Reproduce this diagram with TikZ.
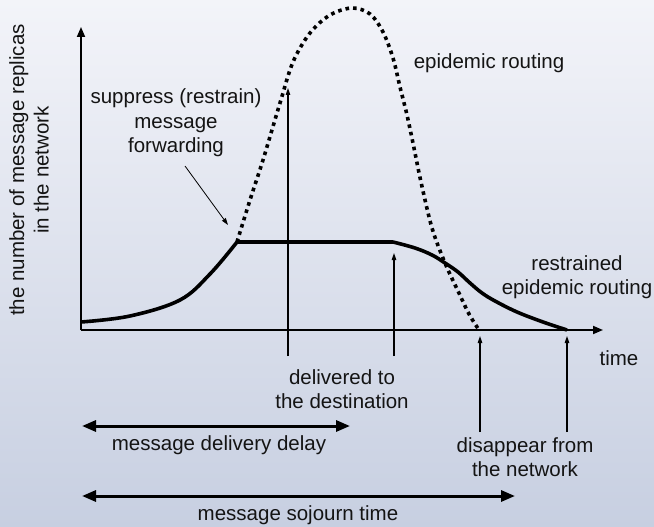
\documentclass[tikz,border=0pt]{standalone}
\usepackage{fontspec}
\setmainfont{Liberation Sans}
\usetikzlibrary{arrows.meta}
\definecolor{bgtop}{RGB}{243,244,249}
\definecolor{bgbot}{RGB}{199,207,225}
\definecolor{ink}{RGB}{20,20,20}
\definecolor{thin}{RGB}{50,50,50}
\begin{document}
\begin{tikzpicture}[x=1pt,y=-1pt,
  lbl/.style={inner sep=0pt,align=center,text=ink,font=\fontsize{20.5}{24.5}\selectfont},
  axis/.style={line width=1.8pt,-{Triangle[length=10pt,width=8pt]}},
  pointer/.style={thin,line width=1.1pt,-{Triangle[length=7pt,width=4.5pt]}},
  span/.style={line width=3pt,{Triangle[length=14pt,width=11pt]}-{Triangle[length=14pt,width=11pt]}},
  restrained/.style={line width=3.6pt,line join=round,line cap=butt},
  epidemic/.style={line width=3.6pt,dash pattern=on 3.6pt off 4pt}]
% background
\shade[top color=bgtop,bottom color=bgbot] (0,0) rectangle (654,527);
\useasboundingbox (0,0) rectangle (654,527);

% axes
\coordinate (O) at (81,330);
\coordinate (xend) at (603,330);
\coordinate (yend) at (81,27);
\draw[axis] (O) -- (xend);
\draw[axis] (O) -- (yend);

% curves
\coordinate (knee) at (237,242);
\coordinate (flatend) at (393,242);
\draw[epidemic] plot[smooth,tension=0.55] coordinates {(237,242) (250,200) (263,160) (280,103) (293,62) (310,33) (330,15) (352,8) (370,14) (383,32) (393,58) (400,87) (407,115) (414,148) (421,182) (432,228) (445,263) (458,291) (469,314) (479,330)};
\draw[restrained] plot[smooth,tension=0.6] coordinates {(81,322) (130,316) (180,300) (210,274) (237,242)} -- (flatend)
  plot[smooth,tension=0.6] coordinates {(393,242) (415,248) (432,255) (445,263) (458,272) (470,283) (482,293) (495,301) (517,312) (543,322) (567,330)};

% labels
\node[lbl] (epi) at (489,63) {epidemic routing};
\node[lbl] (supp) at (176,123) {suppress (restrain)\\message\\forwarding};
\node[lbl] (rest) at (577,277) {restrained\\epidemic routing};
\node[lbl] (time) at (619,358) {time};
\node[lbl] (deliv) at (342,389) {delivered to\\the destination};
\node[lbl] (disap) at (525,457) {disappear from\\the network};
\node[lbl] (delay) at (219,445) {message delivery delay};
\node[lbl] (sojourn) at (298,515) {message sojourn time};
\node[lbl,rotate=90] (ylab) at (29,170) {the number of message replicas\\in the network};

% pointers
\coordinate (p1a) at (288,356); \coordinate (p1b) at (288,88);
\coordinate (p2a) at (394,356); \coordinate (p2b) at (394,253);
\coordinate (p3a) at (480,432); \coordinate (p3b) at (480,336);
\coordinate (p4a) at (567,432); \coordinate (p4b) at (567,336);
\coordinate (c1) at (185,166); \coordinate (c2) at (228,225);
\draw[pointer] (p1a) -- (p1b);
\draw[pointer] (p2a) -- (p2b);
\draw[pointer] (p3a) -- (p3b);
\draw[pointer] (p4a) -- (p4b);
\draw[pointer,line width=0.8pt] (c1) -- (c2);

% spans
\coordinate (d1) at (82,426); \coordinate (d2) at (350,426);
\coordinate (s1) at (82,496); \coordinate (s2) at (515,496);
\draw[span] (d1) -- (d2);
\draw[span] (s1) -- (s2);
\end{tikzpicture}
\end{document}
